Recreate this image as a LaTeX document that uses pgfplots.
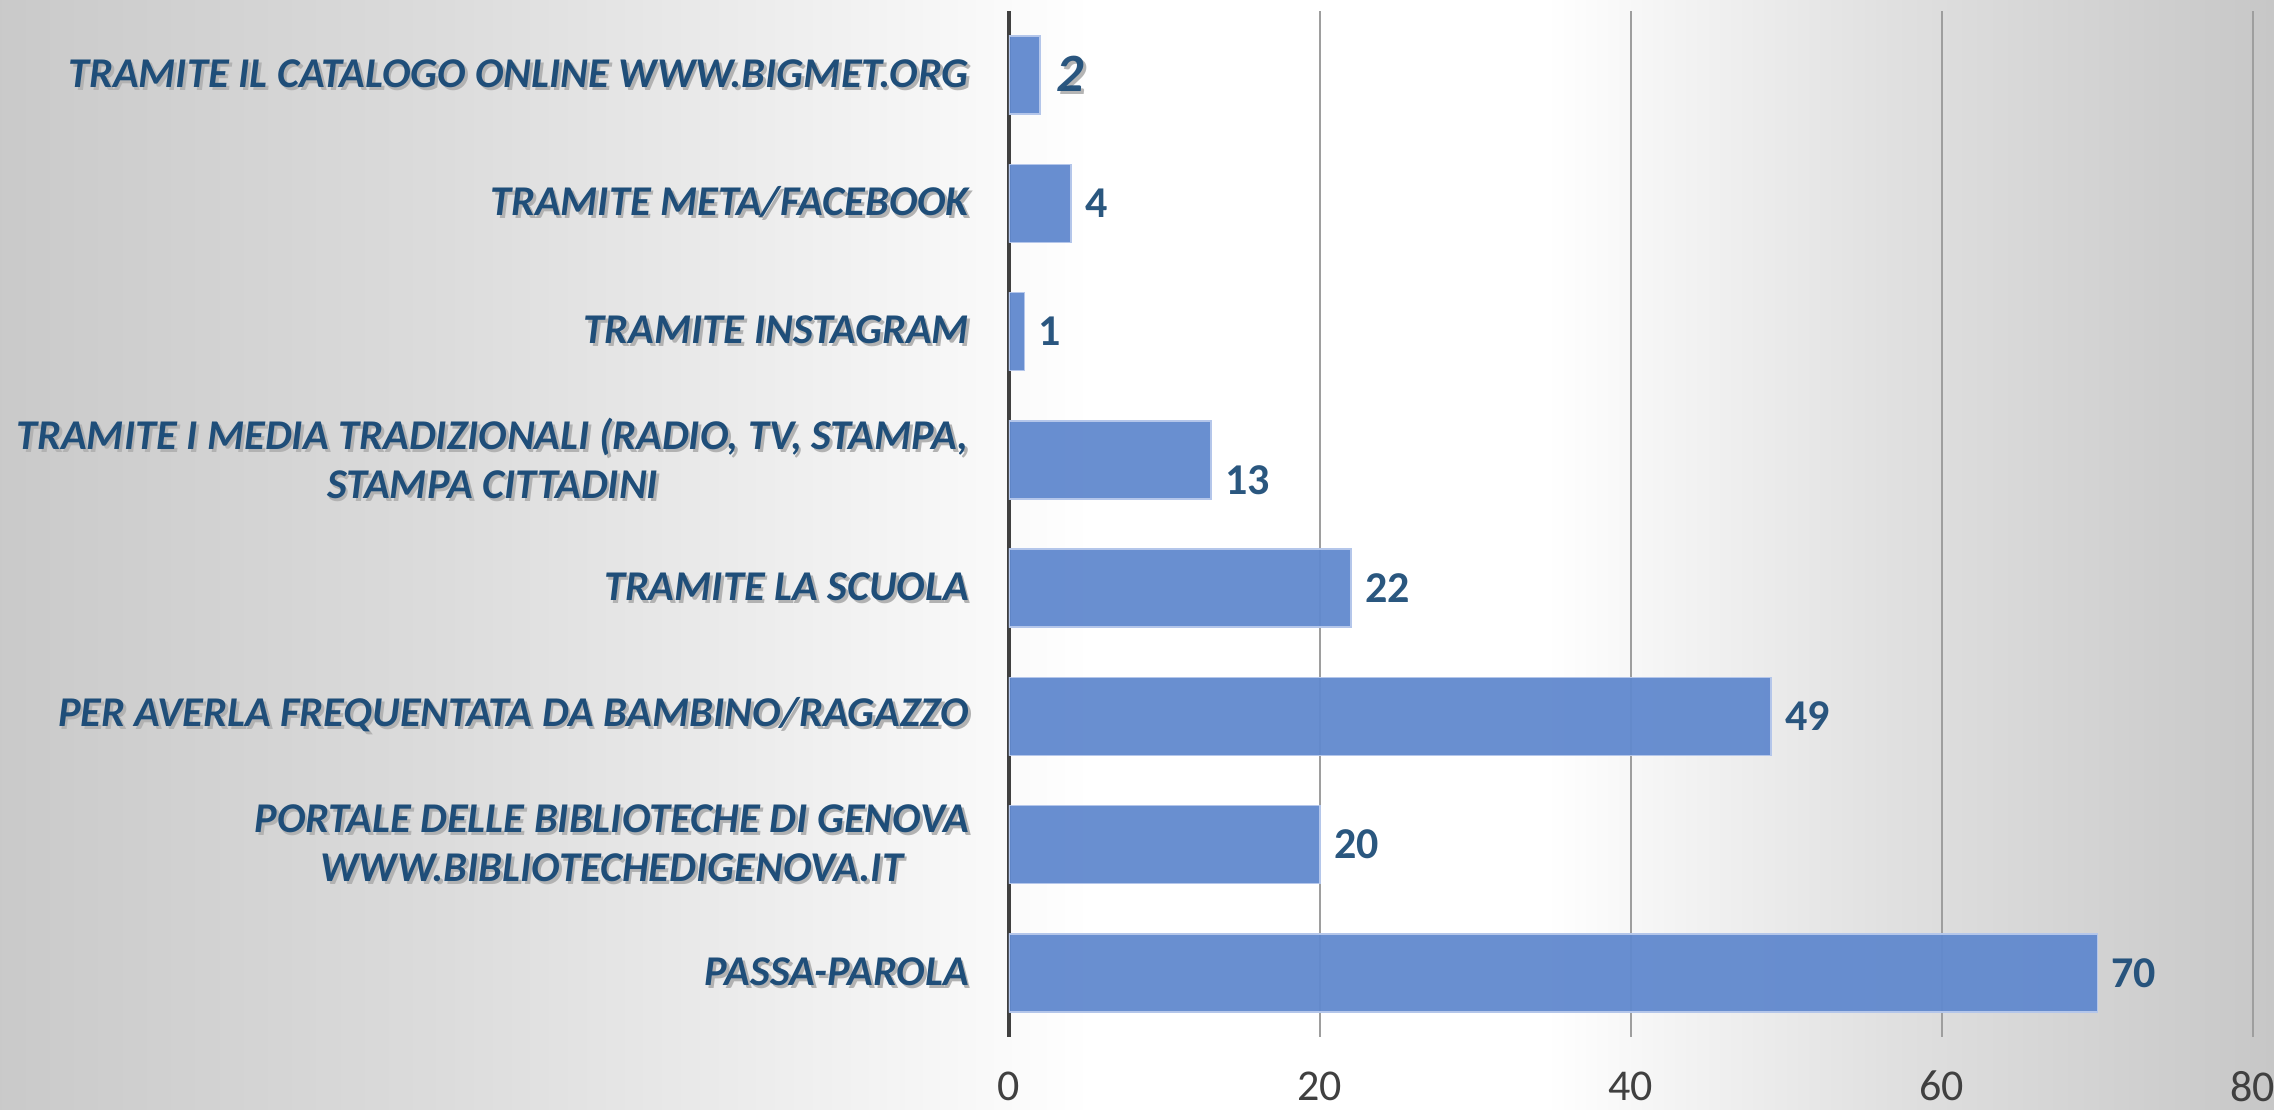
\documentclass[border=0pt]{standalone}
\usepackage{pgfplots}
\pgfplotsset{compat=1.18}
\usepackage{fontspec}
\setmainfont{Carlito}
\definecolor{lbl}{HTML}{1F4E79}
\definecolor{barc}{HTML}{6189CE}
\definecolor{barb}{HTML}{B4C6EA}
\newcommand{\sh}[1]{\leavevmode\rlap{\kern0.7pt\raisebox{-0.7pt}{\textcolor{black!30}{#1}}}#1}
\pgfdeclarehorizontalshading{bg}{100bp}{color(0bp)=(black!21); color(25bp)=(black!21); color(34.5bp)=(black!14); color(44bp)=(black!5); color(49bp)=(white); color(59bp)=(white); color(66.5bp)=(black!12); color(75bp)=(black!22); color(100bp)=(black!22)}
\begin{document}
\begin{tikzpicture}[x=1pt,y=1pt]
\shade[shading=bg] (0,0) rectangle (568.5,277.5);
\begin{axis}[
  at={(252.25pt,18.25pt)}, anchor=south west,
  scale only axis, width=311pt, height=256.5pt,
  xmin=0, xmax=80, ymin=-0.5, ymax=7.5,
  xbar, bar width=19.5pt,
  axis line style={draw=none},
  major tick length=0pt,
  xtick={20,40,60,80},
  extra x ticks={0},
  extra x tick style={major grid style={draw=black!75, line width=0.9pt}},
  xmajorgrids,
  major grid style={draw=black!38, line width=0.45pt},
  /pgf/number format/assume math mode=true,
  xticklabel style={font=\fontsize{11}{13}\selectfont, text=black!75, anchor=center, yshift=-12.3pt},
  ytick={0,1,2,3,4,5,6,7},
  yticklabels={
    {\sh{PASSA-PAROLA}},
    {\sh{PORTALE DELLE BIBLIOTECHE DI GENOVA}\\\sh{WWW.BIBLIOTECHEDIGENOVA.IT}},
    {\sh{PER AVERLA FREQUENTATA DA BAMBINO/RAGAZZO}},
    {\sh{TRAMITE LA SCUOLA}},
    {\sh{TRAMITE I MEDIA TRADIZIONALI (RADIO, TV, STAMPA,}\\\sh{STAMPA CITTADINI}},
    {\sh{TRAMITE INSTAGRAM}},
    {\sh{TRAMITE META/FACEBOOK}},
    {\sh{TRAMITE IL CATALOGO ONLINE WWW.BIGMET.ORG}}
  },
  yticklabel style={font=\fontsize{10.6}{12.25}\selectfont\bfseries\itshape, text=lbl, align=center, anchor=east, xshift=-6.5pt},
  nodes near coords,
  nodes near coords style={font=\fontsize{11}{13}\selectfont\bfseries, text=lbl, anchor=west},
  point meta=x,
]
\addplot[xbar, bar shift=0pt, fill=barc, draw=barb, line width=0.4pt, fill opacity=0.95] coordinates {
  (70,0) (20,1) (49,2) (22,3) (1,5) (4,6)
};
\addplot[xbar, bar shift=0pt, fill=barc, draw=barb, line width=0.4pt, fill opacity=0.95,
  nodes near coords style={yshift=-5pt}] coordinates {
  (13,4)
};
\addplot[xbar, bar shift=0pt, fill=barc, draw=barb, line width=0.4pt, fill opacity=0.95,
  nodes near coords={\sh{\pgfmathprintnumber{\pgfplotspointmeta}}},
  nodes near coords style={font=\fontsize{13.5}{15}\selectfont\bfseries\itshape, xshift=0.5pt}] coordinates {
  (2,7)
};
\end{axis}
\pgfresetboundingbox
\path (0,0) rectangle (568.5,277.5);
\end{tikzpicture}
\end{document}
